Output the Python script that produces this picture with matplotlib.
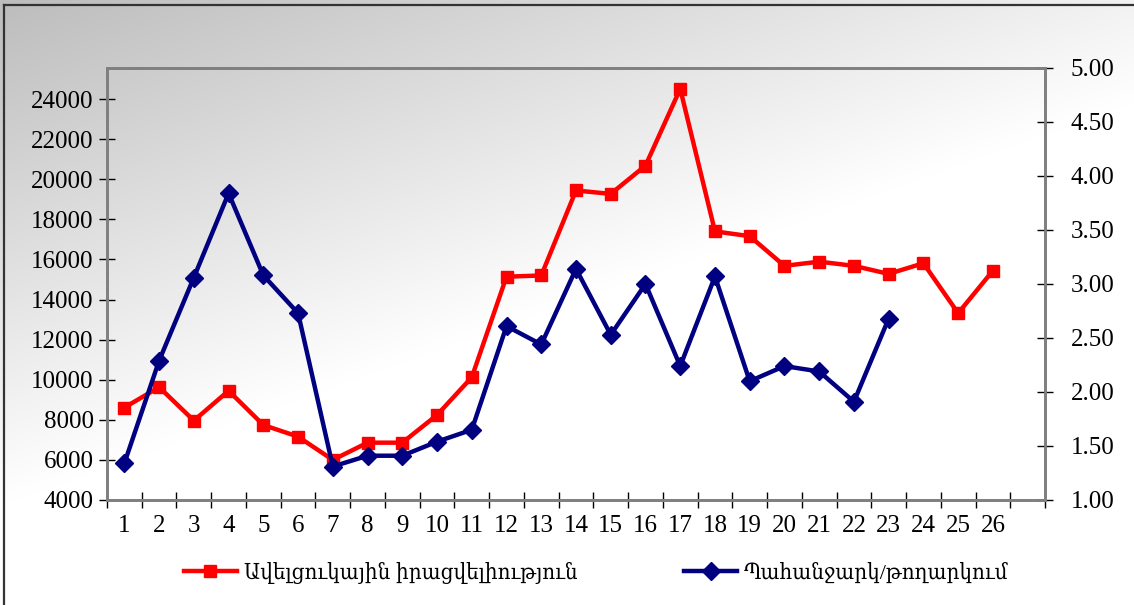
import numpy as np
import matplotlib
matplotlib.use('Agg')
from matplotlib import pyplot as plt
from matplotlib.lines import Line2D
from matplotlib.font_manager import FontProperties

plt.rcParams['font.family'] = ['Liberation Serif', 'DejaVu Serif']

# ---------------- data ----------------
categories = [str(i) for i in range(1, 27)] + ['']
surplus = [8610, 9630, 7960, 9450, 7740, 7160, 6000, 6860, 6860, 8240,
           10120, 15140, 15200, 19440, 19270, 20680, 24510, 17400, 17160,
           15680, 15890, 15680, 15280, 15810, 13320, 15440]
ratio = [1.34, 2.29, 3.06, 3.84, 3.08, 2.73, 1.31, 1.41, 1.41, 1.54,
         1.65, 2.61, 2.44, 3.14, 2.53, 3.00, 2.24, 3.07, 2.10, 2.24,
         2.19, 1.91, 2.68]
label_surplus = 'Ավելցուկային իրացվելիություն'
label_ratio = 'Պահանջարկ/թողարկում'

W, H = 1134, 605
fig = plt.figure(figsize=(W / 100, H / 100), dpi=100)

# gradient background for the whole chart
bg = fig.add_axes([0, 0, 1, 1], zorder=-10)
xx, yy = np.meshgrid(np.linspace(0, 1, 400), np.linspace(0, 1, 220))
g = np.clip(0.74 + 0.26 * np.clip(0.8 * xx + 1.2 * yy, 0, 1), 0, 1)
bg.imshow(np.dstack([g, g, g]), extent=[0, 1, 1, 0], aspect='auto')
bg.set_xlim(0, 1)
bg.set_ylim(1, 0)
bg.axis('off')

# outer frame (left and top edges visible)
fig.add_artist(Line2D([4 / W, 4 / W], [0, 1 - 5 / H], color='#333333', lw=1.6))
fig.add_artist(Line2D([4 / W, 1], [1 - 5 / H, 1 - 5 / H], color='#333333', lw=1.6))

# white legend box
fig.add_artist(plt.Rectangle((142 / W, 1 - 591 / H), 900 / W, 38 / H,
                             facecolor='white', edgecolor='none', alpha=0.85))

# ---------------- plot area ----------------
x0, x1, yt, yb = 107, 1045, 68, 500
ax = fig.add_axes([x0 / W, 1 - yb / H, (x1 - x0) / W, (yb - yt) / H])
ax.set_facecolor('none')
ax2 = ax.twinx()

xs = np.arange(1, len(categories) + 1)
ax.plot(xs[:len(surplus)], surplus, color='#ff0000', lw=3.2, marker='s', ms=8,
        label=label_surplus, zorder=3)
ax2.plot(xs[:len(ratio)], ratio, color='#000080', lw=3.2, marker='D', ms=9,
         label=label_ratio, zorder=3)

ax.set_xlim(0.5, len(categories) + 0.5)
ax.set_ylim(4000, 25550)
ax.set_yticks(np.arange(4000, 24001, 2000))
ax2.set_ylim(1.0, 5.0)
ax2.set_yticks(np.arange(1.0, 5.01, 0.5))
ax2.set_yticklabels(['%.2f' % v for v in np.arange(1.0, 5.01, 0.5)])

ax.set_xticks(np.arange(0.5, len(categories) + 1, 1.0))
ax.set_xticklabels([])
ax.set_xticks(xs, minor=True)
ax.set_xticklabels(categories, minor=True)

for a in (ax, ax2):
    for s in a.spines.values():
        s.set_color('#808080')
        s.set_linewidth(2)

ax.tick_params(axis='x', which='major', direction='inout', length=11, width=1, color='black')
ax.tick_params(axis='x', which='minor', length=0, pad=11, labelsize=18)
ax.tick_params(axis='y', direction='inout', length=11, width=1, color='black',
               pad=4, labelsize=18)
ax2.tick_params(axis='y', direction='inout', length=11, width=1, color='black',
                pad=13, labelsize=18)

# legend
leg_font = FontProperties(family=['Liberation Serif', 'DejaVu Serif'],
                          stretch='condensed', size=16)
h1, l1 = ax.get_legend_handles_labels()
h2, l2 = ax2.get_legend_handles_labels()
fig.legend(h1 + h2, l1 + l2, loc='center', ncol=2, frameon=False,
           bbox_to_anchor=(596 / W, 1 - 573 / H), prop=leg_font,
           handlelength=2.4, handletextpad=0.3, columnspacing=4.8)

fig.savefig('out.png', dpi=100)
